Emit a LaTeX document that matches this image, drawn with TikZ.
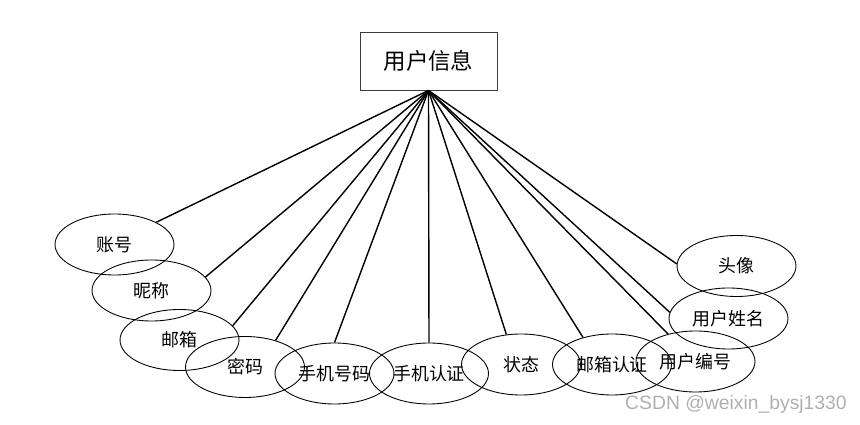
\documentclass[tikz,border=0pt]{standalone}
\usepackage{fontspec}
\setmainfont{Noto Sans CJK SC}
\newfontfamily\wmfont{Liberation Sans}
\usetikzlibrary{shapes.geometric}
\definecolor{wmgray}{RGB}{175,175,175}
\definecolor{boxline}{RGB}{60,60,60}
\tikzset{
  entity/.style={draw=boxline, rectangle, line width=0.5pt, minimum width=2.74cm, minimum height=1.16cm, font=\fontsize{12.8}{14}\selectfont},
  attr/.style={draw, ellipse, line width=0.5pt, minimum width=2.38cm, minimum height=1.22cm, inner sep=0pt, font=\fontsize{10.2}{12}\selectfont},
  link/.style={line width=0.8pt},
  wm/.style={text=wmgray, font=\wmfont\fontsize{11}{13}\selectfont}
}
\begin{document}
\begin{tikzpicture}[x=0.02cm, y=-0.02cm]
    \useasboundingbox (0,0) rectangle (860,425);
    % Entidad
    \node[entity] (info) at (428.5,61) {用户信息};

    % Atributos
    \foreach \name/\x/\y/\ang/\val in {
        account/114.5/244.5/28/账号,
        nick/151.5/290.5/14/昵称,
        mail/179.5/340/15/邮箱,
        pwd/245/367/41/密码,
        phone/334.5/373.5/90/手机号码,
        phonechk/429/373.5/90/手机认证,
        state/521/364.5/116/状态,
        mailchk/612/364.5/137/邮箱认证,
        uid/695.5/361.5/135/用户编号,
        uname/728.5/318.5/174/用户姓名,
        avatar/736.5/266/178/头像
    } {
        \node[attr] (\name) at (\x,\y) {\val};
        \draw[link] (info.south) -- (\name.\ang);
    }

    \node[wm] (mark) at (736,405) {CSDN @weixin\_bysj1330};
\end{tikzpicture}
\end{document}
